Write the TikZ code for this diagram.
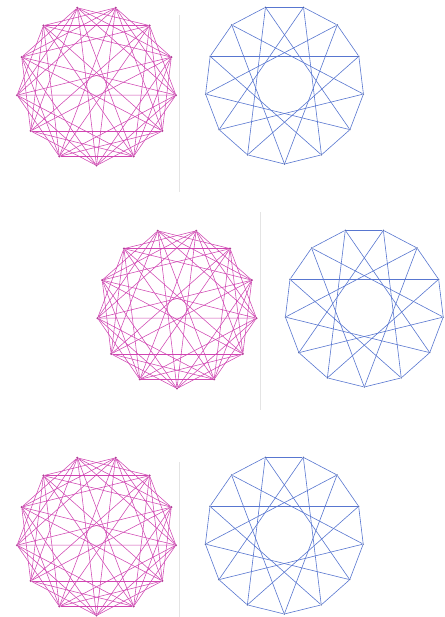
\documentclass[tikz,border=0pt]{standalone}
\usepackage{tikz}
\usetikzlibrary{calc}
\definecolor{pinkline}{RGB}{208,70,178}
\definecolor{blueline}{RGB}{88,118,208}
\definecolor{rulegray}{RGB}{228,228,228}

\begin{document}
\begin{tikzpicture}[x=1pt,y=-1pt,
    pinkedge/.style={pinkline, line width=0.55pt},
    blueedge/.style={blueline, line width=0.6pt},
    pinkdot/.style={circle, fill=pinkline!85!black, inner sep=0pt, minimum size=2.4pt},
    bluedot/.style={circle, fill=blueline!80!black, inner sep=0pt, minimum size=1.6pt},
    sepline/.style={rulegray, line width=1pt}]
            \useasboundingbox (0,0) rectangle (444,617);

            % Faint separators
            \coordinate (sepA top) at (179,15);
            \coordinate (sepA bot) at (179,192);
            \coordinate (sepB top) at (260,212);
            \coordinate (sepB bot) at (260,410);
            \coordinate (sepC top) at (179,462);
            \coordinate (sepC bot) at (179,617);
            \draw[sepline] (sepA top) -- (sepA bot);
            \draw[sepline] (sepB top) -- (sepB bot);
            \draw[sepline] (sepC top) -- (sepC bot);

            % Three rows: pink graph (steps 2,3,4,6) and blue graph (steps 1,5)
            \foreach \row/\px/\py/\bx/\by in {1/96.5/85.5/284.5/84.5, 2/177/308.5/364.3/307.5, 3/96.5/535.5/284.3/534.5}{
                % Vertices
                \foreach \k in {0,...,12}{
                    \node[pinkdot] (pk-\row-\k) at ($(\px,\py)+(90+\k*360/13:80)$) {};
                    \node[bluedot] (bl-\row-\k) at ($(\bx,\by)+(90+\k*360/13:79.5)$) {};
                }
                % Pink chords
                \foreach \k in {0,...,12}{
                    \foreach \s in {2,3,4,6}{
                        \pgfmathtruncatemacro\j{mod(\k+\s,13)}
                        \draw[pinkedge] (pk-\row-\k) -- (pk-\row-\j);
                    }
                }
                % Blue chords
                \foreach \k in {0,...,12}{
                    \foreach \s in {1,5}{
                        \pgfmathtruncatemacro\j{mod(\k+\s,13)}
                        \draw[blueedge] (bl-\row-\k) -- (bl-\row-\j);
                    }
                }
            }
        \end{tikzpicture}
\end{document}
